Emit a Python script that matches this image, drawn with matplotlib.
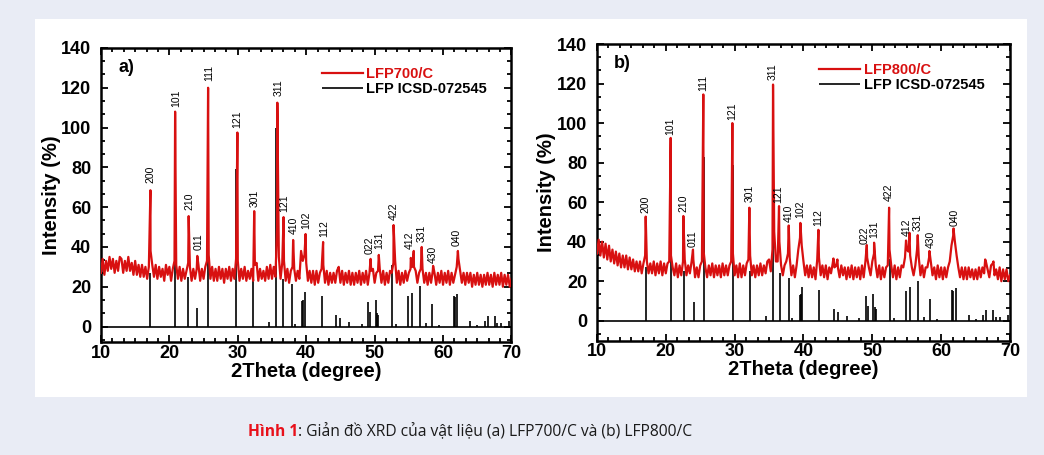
import numpy as np
import matplotlib
matplotlib.use('Agg')
import matplotlib.pyplot as plt
from matplotlib.ticker import MultipleLocator, AutoMinorLocator
from matplotlib.patches import Rectangle

plt.rcParams['font.family'] = ['Liberation Sans', 'DejaVu Sans']
plt.rcParams['font.weight'] = 'bold'

RED = '#d81010'

# sampling of the measured background, 10..70 deg every 0.25 deg
theta_grid = np.arange(241) * 0.25 + 10

# LFP700/C  (values read at each grid point, one row per degree)
bg_a = [27, 34, 26, 33,  28, 35, 29, 34,  27, 33, 28, 35,  34, 27, 33, 28,
        35, 28, 32, 26,  33, 26, 31, 25,  31, 25, 30, 24,  30, 38, 31, 25,
        31, 24, 30, 25,  29, 23, 31, 26,  30, 23, 29, 33,  31, 24, 30, 23,
        29, 24, 28, 32,  30, 23, 29, 24,  29, 31, 23, 29,  24, 30, 33, 36,
        24, 30, 23, 29,  23, 30, 24, 29,  22, 29, 24, 30,  23, 29, 24, 34,
        33, 23, 29, 24,  30, 23, 28, 24,  29, 23, 31, 32,  23, 29, 24, 28,
        23, 30, 24, 31,  24, 30, 25, 50,  35, 24, 32, 33,  23, 29, 22, 28,
        30, 29, 23, 28,  24, 38, 33, 36,  32, 23, 28, 22,  28, 21, 28, 22,
        27, 29, 31, 22,  28, 21, 27, 22,  27, 22, 28, 30,  22, 28, 21, 27,
        22, 28, 21, 27,  21, 27, 22, 28,  21, 27, 22, 28,  21, 27, 28, 29,
        22, 27, 28, 29,  22, 28, 21, 27,  22, 28, 27, 32,  33, 22, 28, 21,
        27, 22, 28, 23,  27, 29, 30, 30,  28, 22, 27, 29,  29, 22, 27, 21,
        27, 22, 28, 27,  21, 27, 22, 28,  21, 27, 22, 28,  21, 27, 22, 26,
        30, 34, 28, 22,  27, 21, 27, 22,  27, 20, 26, 21,  27, 21, 26, 20,
        26, 21, 27, 21,  26, 20, 27, 21,  26, 21, 27, 20,  26, 21, 26, 20,
        24]
peak_pos_a = [17.23, 20.84, 22.82, 24.08, 25.66, 29.94, 32.40, 35.78, 36.69, 38.09,
              39.91, 42.47, 49.41, 50.61, 52.77, 55.29, 55.72, 56.88, 58.55, 62.17]
peak_top_a = [68.5, 108, 55.5, 35.5, 120, 97.5, 58, 112.5, 55, 43.5,
              46.5, 42.5, 34, 36, 51, 34.5, 38, 40, 30.5, 38]

# LFP800/C
bg_b = [34, 41, 33, 40,  32, 39, 31, 38,  30, 36, 29, 35,  28, 34, 27, 33,
        27, 33, 26, 32,  26, 31, 25, 30,  25, 30, 24, 29,  33, 30, 24, 29,
        24, 30, 23, 29,  24, 30, 23, 29,  24, 29, 30, 33,  27, 23, 29, 22,
        28, 23, 30, 31,  23, 28, 24, 30,  31, 22, 27, 22,  28, 30, 35, 27,
        22, 28, 23, 29,  22, 28, 23, 28,  22, 29, 23, 28,  23, 28, 30, 34,
        23, 28, 22, 29,  22, 28, 23, 29,  31, 33, 23, 28,  22, 28, 23, 29,
        23, 28, 24, 30,  31, 25, 36, 45,  30, 30, 40, 28,  23, 28, 30, 34,
        32, 23, 28, 22,  28, 36, 42, 38,  30, 23, 28, 22,  28, 22, 27, 21,
        31, 32, 23, 28,  22, 28, 21, 27,  24, 29, 27, 28,  27, 22, 28, 23,
        27, 21, 27, 22,  28, 21, 27, 22,  27, 21, 28, 22,  30, 32, 27, 23,
        30, 34, 28, 22,  28, 21, 27, 22,  27, 28, 36, 28,  22, 28, 21, 27,
        22, 28, 27, 32,  36, 35, 33, 27,  23, 28, 36, 32,  23, 28, 22, 27,
        27, 32, 30, 23,  27, 21, 28, 22,  27, 21, 27, 22,  27, 30, 38, 43,
        40, 33, 27, 22,  27, 21, 27, 21,  27, 22, 26, 21,  26, 21, 27, 22,
        27, 24, 30, 26,  22, 28, 29, 23,  26, 21, 27, 20,  26, 21, 26, 20,
        23]
peak_pos_b = [17.08, 20.71, 22.55, 23.95, 25.45, 29.67, 32.14, 35.58, 36.45, 37.86,
              39.55, 42.17, 44.35, 44.93, 49.2, 50.26, 52.44, 54.9, 55.4, 56.6,
              58.3, 61.8, 66.4, 67.6]
peak_top_b = [52.7, 92.5, 53, 36, 114.5, 100, 57.2, 119.5, 58, 48.2,
              49.5, 46, 31.5, 31, 38.3, 39.5, 57.2, 40.6, 44.5, 43.3,
              35.3, 46.7, 31, 30]

# reference pattern LFP ICSD-072545
stick_pos = [17.12, 20.78, 22.68, 24.05, 25.58, 29.75, 32.22, 34.55, 35.62, 36.55,
             37.88, 38.3, 39.45, 39.6, 39.85, 42.3, 44.4, 45.0, 46.3, 48.1,
             49.1, 49.35, 50.15, 50.4, 50.5, 52.6, 53.1, 54.9, 55.45, 56.7,
             57.5, 58.35, 59.4, 61.55, 61.75, 62.1, 64.0, 65.0, 66.1, 66.5,
             67.6, 67.9, 68.5, 69.7]
stick_h = [27, 76, 25, 9.5, 83, 79, 25, 2.2, 100, 24,
           21.5, 1.2, 13, 13.5, 17.3, 15.5, 6, 4.3, 2.5, 1.5,
           12.5, 7.5, 13.5, 7, 6, 31, 1.5, 15.3, 17, 20.3,
           2, 11.2, 0.8, 15.5, 15, 16.5, 3, 1, 3, 5.5,
           5.2, 2, 1.8, 3]

hkl = ['200', '101', '210', '011', '111', '121', '301', '311', '121', '410',
       '102', '112', '022', '131', '422', '412', '331', '430', '040']
hkl_x_a = [17.3, 20.94, 22.86, 24.22, 25.75, 29.94, 32.5, 36.01, 36.73, 38.18,
           40.01, 42.57, 49.31, 50.67, 52.77, 55.09, 56.92, 58.47, 61.98]
hkl_y_a = [72, 110.5, 58.4, 38.3, 123.6, 100, 60, 116, 57.6, 46.5,
           49.2, 45, 36.6, 39.1, 53.4, 39.1, 42.5, 32, 40.3]
hkl_x_b = [16.98, 20.71, 22.55, 23.86, 25.45, 29.67, 32.24, 35.48, 36.35, 37.86,
           39.5, 42.17, 48.86, 50.26, 52.44, 55.0, 56.56, 58.5, 61.89]
hkl_y_b = [54.4, 94, 55.2, 37.5, 116.2, 101.4, 60.3, 121.6, 59.4, 50.2,
           51.9, 47.7, 39, 42, 60.4, 42.8, 45.6, 36.9, 47.8]


def pattern(bg, pos, top):
    x = np.concatenate([theta_grid, pos])
    y = np.concatenate([bg, top])
    order = np.argsort(x, kind='stable')
    return x[order], y[order]


def panel(ax, bg, pos, top, hx, hy, sample, tag, ybottom):
    x, y = pattern(bg, pos, top)
    sticks = ax.vlines(stick_pos, 0, stick_h, color='k', lw=1.2, zorder=2,
                       label='LFP ICSD-072545')
    ax.axhline(0, color='k', lw=1.2, zorder=2)
    line, = ax.plot(x, y, color=RED, lw=1.6, zorder=3, label=sample)
    for s, tx, ty in zip(hkl, hx, hy):
        ax.text(tx, ty, s, rotation=90, ha='center', va='bottom',
                fontsize=7.5, fontweight='normal', zorder=4)
    ax.text(12.5, 130, tag, fontsize=13, ha='left', va='center')

    ax.set_xlim(10, 70)
    ax.set_ylim(ybottom, 140)
    ax.xaxis.set_major_locator(MultipleLocator(10))
    ax.xaxis.set_minor_locator(AutoMinorLocator(6))
    ax.yaxis.set_major_locator(MultipleLocator(20))
    ax.yaxis.set_minor_locator(AutoMinorLocator(3))
    ax.tick_params(which='both', direction='in', top=True, right=True, width=1.3)
    ax.tick_params(which='major', length=5, labelsize=13)
    ax.tick_params(axis='x', which='major', pad=2)
    ax.tick_params(axis='y', which='major', pad=7)
    ax.tick_params(which='minor', length=2.8)
    for sp in ax.spines.values():
        sp.set_linewidth(1.8)
    ax.set_xlabel('2Theta (degree)', fontsize=14.5, fontweight='bold', labelpad=0)
    ax.set_ylabel('Intensity (%)', fontsize=14.5, fontweight='bold')
    ax.yaxis.set_label_coords(-0.098, 0.5)

    leg = ax.legend(handles=[line, sticks], loc='upper left',
                    bbox_to_anchor=(0.538, 0.935), frameon=False, fontsize=10.5,
                    handlelength=2.8, handletextpad=0.25, labelspacing=0.05,
                    borderaxespad=0, borderpad=0)
    leg.get_texts()[0].set_color(RED)


fig = plt.figure(figsize=(10.44, 4.55), dpi=100)
fig.patch.set_facecolor('#e9ecf5')
fig.patches.append(Rectangle((0.0335, 0.1275), 0.9502, 0.8308,
                             transform=fig.transFigure, facecolor='white',
                             edgecolor='none', zorder=-5))

ax_a = fig.add_axes([0.0967, 0.2473, 0.3932, 0.6473])
ax_b = fig.add_axes([0.5718, 0.2516, 0.3956, 0.6516])
panel(ax_a, bg_a, peak_pos_a, peak_top_a, hkl_x_a, hkl_y_a, 'LFP700/C', 'a)', -8)
panel(ax_b, bg_b, peak_pos_b, peak_top_b, hkl_x_b, hkl_y_b, 'LFP800/C', 'b)', -10)

# caption
cap_font = ['Open Sans', 'DejaVu Sans']
cap_y = 1 - 432 / 455
t1 = fig.text(0, cap_y, 'Hình 1', color='#e8101a', fontsize=11, fontweight='bold',
              family=cap_font, va='center')
t2 = fig.text(0, cap_y, ': Giản đồ XRD của vật liệu (a) LFP700/C và (b) LFP800/C',
              color='#1a1a1a', fontsize=11, fontweight='normal', family=cap_font,
              va='center')
fig.canvas.draw()
r = fig.canvas.get_renderer()
w1 = t1.get_window_extent(r).width
w2 = t2.get_window_extent(r).width
scale = 445 / (w1 + w2)
t1.set_fontsize(11 * scale)
t2.set_fontsize(11 * scale)
fig.canvas.draw()
w1 = t1.get_window_extent(r).width
x0 = 248
t1.set_x(x0 / 1044)
t2.set_x((x0 + w1) / 1044)

fig.savefig('out.png', dpi=100, facecolor=fig.get_facecolor())
